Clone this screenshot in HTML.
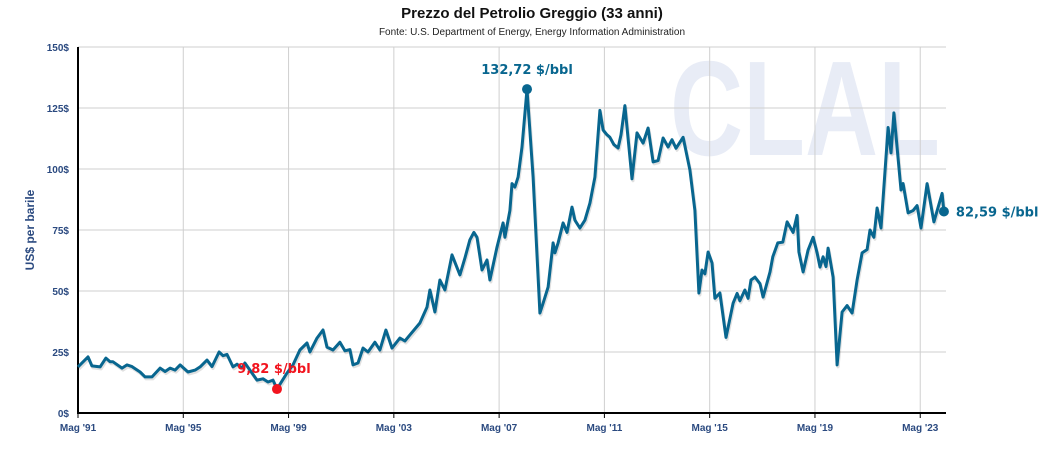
<!DOCTYPE html>
<html><head><meta charset="utf-8"><style>
body{margin:0;background:#fff;}
svg{display:block;font-family:"Liberation Sans",Arial,sans-serif;}
</style></head><body>
<svg id="chart" width="1064" height="463" viewBox="0 0 1064 463">
<text x="532" y="18" text-anchor="middle" font-size="15" font-weight="bold" fill="#111">Prezzo del Petrolio Greggio (33 anni)</text>
<text x="532" y="35" text-anchor="middle" font-size="10" fill="#222">Fonte: U.S. Department of Energy, Energy Information Administration</text>
<text x="670" y="155" font-size="135" font-weight="bold" fill="#e8ecf6" textLength="270" lengthAdjust="spacingAndGlyphs">CLAL</text>
<g id="grid"></g>
<g id="axes"></g>
<g id="series"></g>
<text transform="translate(34,230) rotate(-90)" text-anchor="middle" font-size="12" font-weight="bold" fill="#2b4a80">US$ per barile</text>
</svg>
<script>
const years=[1991.33,1991.71,1991.86,1992.17,1992.39,1992.55,1992.66,1993.0,1993.19,1993.38,1993.69,1993.88,1994.14,1994.45,1994.64,1994.83,1995.02,1995.21,1995.51,1995.78,1995.97,1996.23,1996.42,1996.69,1996.84,1996.99,1997.22,1997.37,1997.56,1997.67,1998.13,1998.36,1998.55,1998.74,1998.89,1999.27,1999.5,1999.76,2000.03,2000.14,2000.41,2000.64,2000.79,2001.02,2001.28,2001.47,2001.66,2001.78,2001.97,2002.16,2002.35,2002.61,2002.8,2003.03,2003.26,2003.56,2003.75,2003.94,2004.32,2004.59,2004.7,2004.89,2005.08,2005.27,2005.54,2005.84,2006.03,2006.22,2006.37,2006.49,2006.68,2006.87,2006.98,2007.25,2007.48,2007.55,2007.74,2007.82,2007.93,2008.05,2008.2,2008.39,2008.62,2008.88,2009.0,2009.19,2009.38,2009.45,2009.57,2009.76,2009.91,2010.1,2010.21,2010.4,2010.59,2010.78,2010.97,2011.16,2011.28,2011.43,2011.54,2011.69,2011.85,2011.96,2012.11,2012.38,2012.57,2012.8,2012.99,2013.18,2013.37,2013.56,2013.75,2013.9,2014.05,2014.32,2014.58,2014.77,2014.92,2015.04,2015.15,2015.27,2015.42,2015.53,2015.72,2015.95,2016.22,2016.37,2016.48,2016.67,2016.79,2016.9,2017.05,2017.24,2017.36,2017.62,2017.73,2017.92,2018.11,2018.27,2018.5,2018.65,2018.72,2018.88,2019.07,2019.26,2019.41,2019.52,2019.64,2019.75,2019.83,2020.02,2020.17,2020.36,2020.55,2020.74,2020.93,2021.12,2021.31,2021.42,2021.57,2021.69,2021.84,2022.11,2022.22,2022.33,2022.6,2022.68,2022.87,2023.06,2023.21,2023.36,2023.59,2023.85,2024.16,2024.23];
const prices=[18.9,23,19.3,18.9,22.5,21,21,18.4,19.7,19,16.8,14.8,14.8,18.4,17,18.4,17.6,19.7,16.8,17.6,18.9,21.7,19,25,23.5,24,18.9,20,18.4,20.5,13.5,14,12.7,13.5,9.82,16.4,19.7,25.8,28.7,25,30.7,34,27,25.8,29,25.5,26,19.7,20.5,26.6,25,29,25.8,34,26.6,30.7,29.5,32,36.9,43.4,50.4,41.4,54.5,50.4,64.8,56.6,63.5,71,74,72,58.6,62.7,54.5,68,77.9,72,83,94,92.6,96.7,109,132.72,96.7,41,45,51.6,69.7,65.6,69.7,77.9,74,84.4,79,75.8,79,86,96.7,124,116,114,113,110,108.6,114,126,96,114.8,110.6,116.8,102.9,103.5,112.7,109,112,108.5,113,99.6,83,49.2,58.6,57,66,61.5,47,49.2,31,45,49,46,50.4,47,54.5,55.7,53,47.5,57.8,64,69.7,70,78.3,74,81,66,57.8,66.8,72,65.6,59.8,64,60,67.6,55.7,19.7,41.4,44,41,54.5,65.6,67,75,72,84,75.8,117,106.6,123,91.4,94,82,83,85,75.8,94,78.3,90,82.59];
const yTicks=[0,25,50,75,100,125,150];
const xTickYears=[1991,1995,1999,2003,2007,2011,2015,2019,2023];
const xTickLabels=["Mag '91","Mag '95","Mag '99","Mag '03","Mag '07","Mag '11","Mag '15","Mag '19","Mag '23"];
const NS="http://www.w3.org/2000/svg";
const X0=78,X1=946,Y0=413,Y1=47;
const LBL='"DejaVu Sans",Verdana,sans-serif';
function xs(yr){return X0+(yr-1991.33)*26.32;}
function ys(v){return Y0-(v/150)*(Y0-Y1);}
function mk(tag,at,parent){const e=document.createElementNS(NS,tag);for(const k in at)e.setAttribute(k,at[k]);parent.appendChild(e);return e;}
const grid=document.getElementById('grid'),axes=document.getElementById('axes'),ser=document.getElementById('series');
yTicks.forEach(t=>{
 const l=mk('line',{x1:X0,x2:X1,y1:ys(t),y2:ys(t),stroke:'#cfcfcf','stroke-width':1},grid);
 
 
 const tx=mk('text',{x:X0-9,y:ys(t)+4,'text-anchor':'end','font-size':10,'font-weight':'bold',fill:'#2b4a80'},axes);
 tx.textContent=t+'$';
 
 
});
xTickYears.forEach((yr,i)=>{
 const x=xs(yr+0.33);
 const l=mk('line',{x1:x,x2:x,y1:Y1,y2:Y0,stroke:'#cfcfcf','stroke-width':1},grid);
 
 
 mk('line',{x1:x,x2:x,y1:Y0,y2:Y0+5,stroke:'#000','stroke-width':1},axes);
 const tx=mk('text',{x:x,y:431,'text-anchor':'middle','font-size':10,'font-weight':'bold',fill:'#2b4a80'},axes);
 tx.textContent=xTickLabels[i];
 
 
});
const ax=mk('path',{d:`M${X0},${Y1} V${Y0} H${X1}`,fill:'none',stroke:'#000','stroke-width':2},axes);


let d='';years.forEach((yr,i)=>{d+=(i?'L':'M')+xs(yr).toFixed(1)+','+ys(prices[i]).toFixed(1);});
const sh=mk('path',{d:d,fill:'none',stroke:'rgba(0,0,0,0.12)','stroke-width':3,transform:'translate(1,2)','stroke-linejoin':'round'},ser);


const ln=mk('path',{d:d,fill:'none',stroke:'#08668f','stroke-width':3,'stroke-linejoin':'round'},ser);


let iMax=0,iMin=0;prices.forEach((p,i)=>{if(p>prices[iMax])iMax=i;if(p<prices[iMin])iMin=i;});
const iLast=prices.length-1;
function fmt(v){return v.toFixed(2).replace('.',',')+' $/bbl';}
const pMax=mk('circle',{cx:xs(years[iMax]),cy:ys(prices[iMax]),r:5,fill:'#08668f'},ser);


const tMax=mk('text',{x:xs(years[iMax]),y:ys(prices[iMax])-15,'text-anchor':'middle','font-size':13,'font-weight':'bold',fill:'#08668f','font-family':LBL},ser);
tMax.textContent=fmt(prices[iMax]);


const pMin=mk('circle',{cx:xs(years[iMin]),cy:ys(prices[iMin]),r:5,fill:'#f2141e'},ser);


const tMin=mk('text',{x:xs(years[iMin])-3,y:ys(prices[iMin])-16,'text-anchor':'middle','font-size':13,'font-weight':'bold',fill:'#f2141e','font-family':LBL},ser);
tMin.textContent=fmt(prices[iMin]);


const pLast=mk('circle',{cx:xs(years[iLast]),cy:ys(prices[iLast]),r:5,fill:'#08668f'},ser);


const tLast=mk('text',{x:xs(years[iLast])+12,y:ys(prices[iLast])+5,'font-size':13,'font-weight':'bold',fill:'#08668f','font-family':LBL},ser);
tLast.textContent=fmt(prices[iLast]);


</script>
</body></html>
